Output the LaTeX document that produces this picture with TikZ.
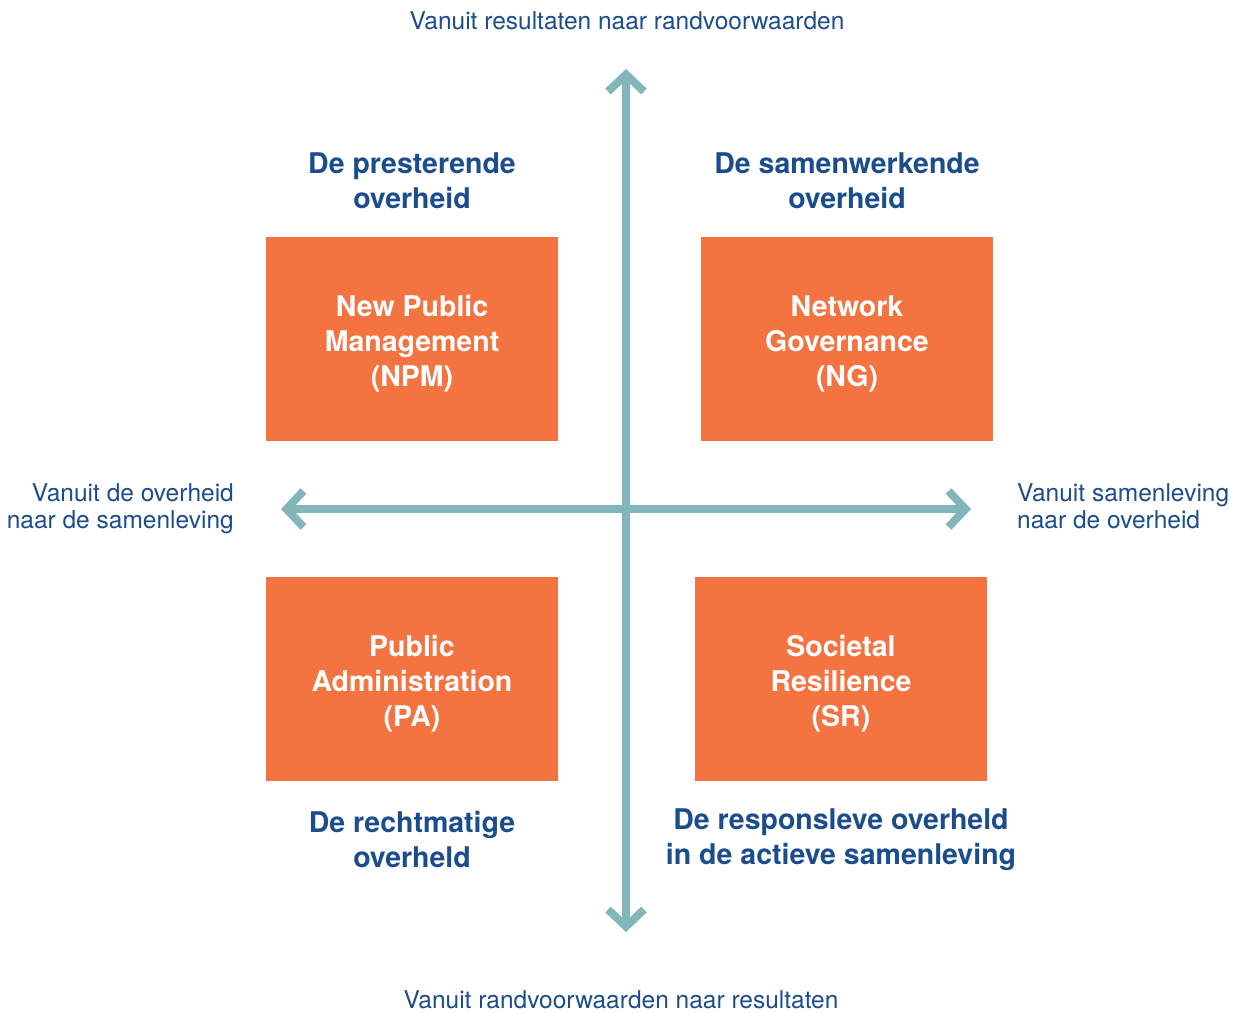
\documentclass[tikz,border=0pt]{standalone}
\usepackage{fontspec}
\setmainfont{TeX Gyre Heros}
\usetikzlibrary{arrows.meta}
\definecolor{txtblue}{HTML}{1B4C8C}
\definecolor{boxorange}{HTML}{F37341}
\definecolor{axisteal}{HTML}{82B6BB}
\tikzset{
  axis/.style={draw=axisteal, line width=8pt, {Straight Barb[length=17pt,width=36pt]}-{Straight Barb[length=17pt,width=36pt]}},
  quadbox/.style={fill=boxorange, minimum width=292pt, minimum height=204pt, inner sep=0pt},
  boxtext/.style={text=white, font=\fontsize{28.5}{35}\selectfont\bfseries, align=center, inner sep=0pt},
  title/.style={text=txtblue, font=\fontsize{28.5}{35}\selectfont\bfseries, align=center, inner sep=0pt},
  small/.style={text=txtblue, font=\fontsize{24.5}{27}\selectfont, inner sep=0pt}
}
\begin{document}
\begin{tikzpicture}[x=1pt,y=-1pt]
\useasboundingbox (0,0) rectangle (1239,1012);
\coordinate (top) at (626,69);
\coordinate (bot) at (626,932);
\coordinate (lft) at (281,509);
\coordinate (rgt) at (971,509);
\draw[axis] (bot) -- (top);
\draw[axis] (lft) -- (rgt);
\node[quadbox] (npm) at (412,339) {};
\node[quadbox] (ng) at (847,339) {};
\node[quadbox] (pa) at (412,679) {};
\node[quadbox] (sr) at (841,679) {};
\node[boxtext] (npmt) at ([yshift=-5pt]npm.center) {New Public\\Management\\(NPM)};
\node[boxtext] (ngt) at ([yshift=-5pt]ng.center) {Network\\Governance\\(NG)};
\node[boxtext] (pat) at ([yshift=-5pt]pa.center) {Public\\Administration\\(PA)};
\node[boxtext] (srt) at ([yshift=-5pt]sr.center) {Societal\\Resilience\\(SR)};
\node[title] (t1) at (412,181) {De presterende\\overheid};
\node[title] (t2) at (847,181) {De samenwerkende\\overheid};
\node[title] (t3) at (412,839) {De rechtmatige\\overheld};
\node[title] (t4) at (841,840) {De responsleve overheld\\in de actieve samenleving};
\node[small] (lt) at (627,21) {Vanuit resultaten naar randvoorwaarden};
\node[small] (lb) at (621,1000) {Vanuit randvoorwaarden naar resultaten};
\node[small, align=right, anchor=east] (ll) at (234,509) {Vanuit de overheid\\naar de samenleving};
\node[small, align=left, anchor=west] (lr) at (1017,506) {Vanuit samenleving\\naar de overheid};
\end{tikzpicture}
\end{document}
